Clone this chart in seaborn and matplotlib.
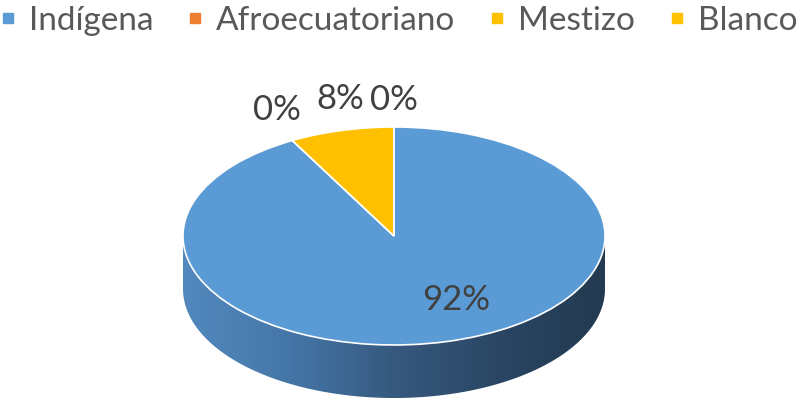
import numpy as np
import matplotlib
matplotlib.use("Agg")
import matplotlib.pyplot as plt
from matplotlib.colors import LinearSegmentedColormap
from matplotlib.lines import Line2D
from matplotlib.patches import Polygon
import seaborn as sns

# data
categories = ["Indígena", "Afroecuatoriano", "Mestizo", "Blanco"]
values = [92, 0, 8, 0]
pct_labels = ["92%", "0%", "8%", "0%"]

sns.set_theme(style="white")
plt.rcParams["font.family"] = ["Lato", "DejaVu Sans"]

colors = ["#5B9BD5", "#ED7D31", "#FFC000", "#FFC000"]
text_color = "#595959"

# layout in pixels (y down) -> data units, y squashed to get the tilted look
W, H = 800, 401
rx, ry = 211, 109
k = rx / ry
cx, cy_px = 394, 236
thick_px = 53
cy = (H - cy_px) * k
thick = thick_px * k

fig = plt.figure(figsize=(8, 4.01), dpi=100)
ax = fig.add_axes([0, 0, 1, 1])

# side wall of the disc
t = np.linspace(np.pi, 2 * np.pi, 200)
top = np.column_stack([cx + rx * np.cos(t), cy + rx * np.sin(t)])
bot = np.column_stack([cx + rx * np.cos(t[::-1]), cy - thick + rx * np.sin(t[::-1])])
side = Polygon(np.vstack([top, bot]), closed=True, facecolor="none", edgecolor="none")
ax.add_patch(side)
side_cmap = LinearSegmentedColormap.from_list(
    "side", ["#5389be", "#4576a8", "#36597e", "#2a4664", "#233a50"])
grad = np.linspace(0, 1, 256).reshape(1, -1)
img = ax.imshow(grad, cmap=side_cmap, aspect="auto",
                extent=(cx - rx, cx + rx, cy - thick - rx, cy), zorder=1)
img.set_clip_path(side)

# top face
wedges, _ = ax.pie(values, colors=colors, startangle=90, counterclock=False,
                   center=(cx, cy), radius=rx,
                   wedgeprops=dict(edgecolor="white", linewidth=1.2, zorder=2))

# data labels
label_dist = [0.66, 1.28, 1.28, 1.25]
label_shift = [12, -3, -3, 0]
for w, lab, d, s in zip(wedges, pct_labels, label_dist, label_shift):
    ang = np.deg2rad((w.theta1 + w.theta2) / 2 + s)
    ax.text(cx + d * rx * np.cos(ang), cy + d * rx * np.sin(ang), lab,
            ha="center", va="center", fontsize=25, color="#404040", zorder=5)

ax.set_aspect("auto")
ax.set_xlim(0, W)
ax.set_ylim(0, H * k)
ax.axis("off")

handles = [Line2D([], [], marker="s", linestyle="none", markersize=7.5,
                  markerfacecolor=c, markeredgecolor=c) for c in colors]
fig.legend(handles, categories, loc="upper center", bbox_to_anchor=(0.5, 1.06),
           ncol=4, frameon=False, fontsize=24, labelcolor=text_color,
           handlelength=0.3, handletextpad=0.48, columnspacing=1.1)

fig.savefig("out.png", dpi=100)
